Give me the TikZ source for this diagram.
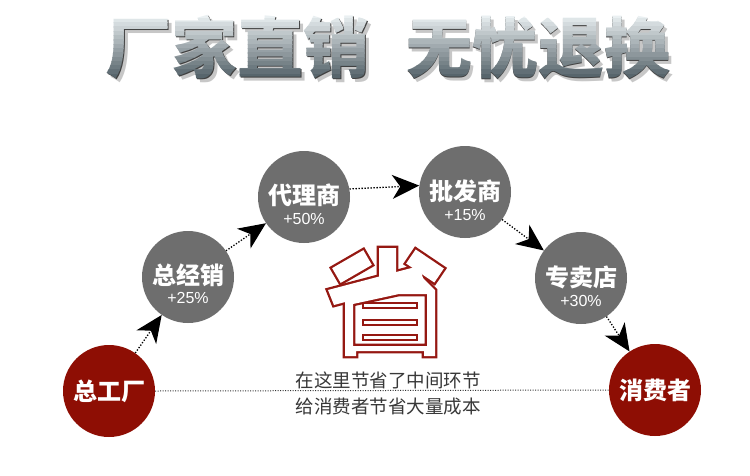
\documentclass[tikz,border=0pt]{standalone}
\usepackage{fontspec}
\usepackage{xcolor}
\usepackage{tikz}
\usetikzlibrary{arrows.meta}

\newfontfamily\cjk{Noto Sans CJK SC}
\newfontfamily\latin{Liberation Sans}

\definecolor{stagegray}{HTML}{6E6E6E}
\definecolor{endred}{HTML}{8E0E04}
\definecolor{shengred}{HTML}{951812}
\definecolor{silvertop}{HTML}{EAF0F2}
\definecolor{silverbot}{HTML}{4E5C63}
\definecolor{captext}{HTML}{383838}

\newcommand{\titletext}{厂家直销\hspace{0.55em}无忧退换}

\begin{document}
\begin{tikzpicture}[
    x=1pt, y=-1pt,
    stage/.style={circle, fill=stagegray, minimum size=92pt, inner sep=0pt},
    endpoint/.style={circle, fill=endred, minimum size=92pt, inner sep=0pt,
        text=white, font=\cjk\bfseries\fontsize{24}{24}\selectfont},
    stagename/.style={text=white, inner sep=0pt, font=\cjk\bfseries\fontsize{24}{24}\selectfont},
    stagepct/.style={text=white, inner sep=0pt, font=\latin\fontsize{16}{16}\selectfont},
    flow/.style={draw=black, line width=1.3pt, dash pattern=on 1.3pt off 1.7pt,
        -{Stealth[length=27pt, width=24pt, inset=8pt]}},
    saveline/.style={draw=black!80, line width=1pt, dash pattern=on 1pt off 1.5pt},
    caption/.style={text=captext, inner sep=0pt, font=\cjk\fontsize{18.5}{18.5}\selectfont},
    titlefont/.style={inner sep=0pt, font=\cjk\bfseries\fontsize{66}{66}\selectfont},
    shengline/.style={draw=shengred, line width=4.6pt, line join=miter},
    shengfill/.style={fill=white},
]

% Fundo
\useasboundingbox (0,0) rectangle (750,475);
\fill[white] (0,0) rectangle (750,475);

% Titulo metalico
\node[titlefont, text=black!40, text opacity=0.55] (titleshadow) at (391.5,51.5) {\titletext};
\node[titlefont, text=black!75] (titleedge) at (388.8,48) {\titletext};
\foreach \i in {0,...,15} {
    \pgfmathtruncatemacro\pct{100-\i*100/15}
    \colorlet{band}{silvertop!\pct!silverbot}
    \begin{scope}
        \clip (0,{14+\i*4.3}) rectangle (750,{14+(\i+1)*4.3+0.3});
        \node[titlefont, text=band] (title\i) at (388,47) {\titletext};
    \end{scope}
}

% Caractere 省 vazado
\foreach \pass in {shengline, shengfill} {
    \path[\pass, shift={(352,266.5)}, rotate=30] (-18,-8.5) rectangle (18,8.5);
    \path[\pass, shift={(425,266)}, rotate=-34] (-17,-8.5) rectangle (17,8.5);
    \path[\pass] (379,248) -- (396,248) -- (396,282) -- (379,285) -- cycle;
    \path[\pass] (328,290) -- (419,266) -- (424,281) -- (334,305) -- cycle;
    \path[\pass, even odd rule] (345,300) -- (345,356) -- (356,356) -- (356,351)
        -- (424,351) -- (424,356) -- (435,356) -- (435,290) -- (421,276) -- cycle
        (353,304) -- (353,346) -- (427,346) -- (427,294) -- (399,294) -- cycle;
}
\foreach \y in {305.5,322.5,337.5}
    \draw[shengred, line width=2pt, fill=white] (363,\y-2.5) rectangle (417,\y+2.5);

% Etapas
\node[endpoint] (factory) at (109,391) {总工厂};
\node[stage] (general) at (188,277) {};
\node[stagename] (generalname) at (188,275) {总经销};
\node[stagepct] (generalpct) at (188,298) {+25\%};
\node[stage] (agent) at (304,197) {};
\node[stagename] (agentname) at (304,195) {代理商};
\node[stagepct] (agentpct) at (304,219) {+50\%};
\node[stage] (whole) at (465,192) {};
\node[stagename] (wholename) at (465,191) {批发商};
\node[stagepct] (wholepct) at (465,215) {+15\%};
\node[stage] (shop) at (581,278) {};
\node[stagename] (shopname) at (581,277) {专卖店};
\node[stagepct] (shoppct) at (581,301) {+30\%};
\node[endpoint] (consumer) at (655,390) {消费者};

% Setas entre etapas
\draw[flow] (factory) -- (general);
\draw[flow] (general) -- (agent);
\draw[flow] (agent.10) -- (whole.172);
\draw[flow] (whole) -- (shop);
\draw[flow] (shop) -- (consumer);

% Linha direta e legenda
\draw[saveline] (factory.east) -- (consumer.west);
\node[caption] (savetop) at (388,380) {在这里节省了中间环节};
\node[caption] (savebottom) at (388,407) {给消费者节省大量成本};

\end{tikzpicture}
\end{document}
